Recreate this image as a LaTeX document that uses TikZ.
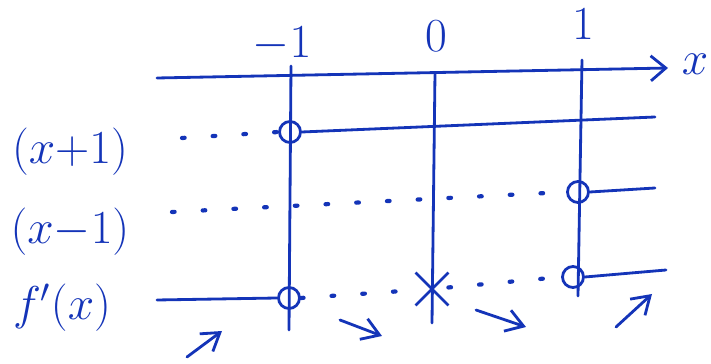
\RequirePackage{fix-cm}
\documentclass[tikz,border=0pt]{standalone}
\usepackage{xcolor}
\usepackage{tikz}
\usetikzlibrary{positioning, arrows.meta, shapes.misc}
\definecolor{pencol}{HTML}{1434B8}

\begin{document}
\begin{tikzpicture}[
  x=0.02cm, y=-0.02cm,
  pen/.style={draw=pencol, line width=1.6pt, line cap=round},
  dots/.style={draw=pencol, line width=2.4pt, line cap=round, dash pattern=on 1.5pt off 16pt},
  hole/.style={circle, draw=pencol, line width=1.6pt, inner sep=0pt, minimum size=0.42cm},
  zero/.style={cross out, draw=pencol, line width=1.6pt, inner sep=0pt, minimum size=0.6cm},
  lbl/.style={text=pencol, inner sep=0pt, font=\fontsize{27}{32}\selectfont},
  trend/.style={pen, -{Straight Barb[length=3.4mm, width=4.4mm]}}
]
\useasboundingbox (0,0) rectangle (711,364);

\coordinate (axL) at (157,78);
\coordinate (axR) at (668,68);
\node[lbl] (xlab) at (695,64) {$x$};
\draw[pen, -{Straight Barb[length=3mm, width=5mm]}] (axL) -- (axR);

\node[lbl] (lm1) at (282,44) {$-1$};
\node[lbl] (l0) at (436,36) {$0$};
\node[lbl] (l1) at (583,24) {$1$};

\coordinate (vmTop) at (291,66);
\coordinate (vmBot) at (289,330);
\coordinate (v0Top) at (435,73);
\coordinate (v0Bot) at (432,323);
\coordinate (v1Top) at (582,60);
\coordinate (v1Bot) at (578,296);
\draw[pen] (vmTop) -- (vmBot);
\draw[pen] (v0Top) -- (v0Bot);
\draw[pen] (v1Top) -- (v1Bot);

\node[lbl] (rowA) at (70,152) {$(x{+}1)$};
\node[lbl] (rowB) at (70,232) {$(x{-}1)$};
\node[lbl] (rowC) at (62,308) {$f'(x)$};

\node[hole] (cA) at (290,132) {};
\node[hole] (cB) at (578,192) {};
\node[hole] (cC) at (289,298) {};
\node[hole] (cD) at (573,277) {};
\node[zero] (z) at (432,289) {};

\coordinate (aL) at (182,138);
\coordinate (aR) at (655,117);
\draw[dots] (aL) -- (cA.west);
\draw[pen] (cA.east) -- (aR);

\coordinate (bL) at (172,212);
\coordinate (bR) at (655,188);
\draw[dots] (bL) -- (cB.west);
\draw[pen] (cB.east) -- (bR);

\coordinate (cL) at (157,300);
\coordinate (cR) at (666,270);
\draw[pen] (cL) -- (cC.west);
\draw[dots] (cC.east) -- (z);
\draw[dots] (z) -- (cD.west);
\draw[pen] (cD.east) -- (cR);

\coordinate (t1s) at (187,357);
\coordinate (t1e) at (222,331);
\coordinate (t2s) at (340,320);
\coordinate (t2e) at (382,336);
\coordinate (t3s) at (476,310);
\coordinate (t3e) at (526,327);
\coordinate (t4s) at (616,327);
\coordinate (t4e) at (652,294);
\draw[trend] (t1s) -- (t1e);
\draw[trend] (t2s) -- (t2e);
\draw[trend] (t3s) -- (t3e);
\draw[trend] (t4s) -- (t4e);
\end{tikzpicture}
\end{document}
